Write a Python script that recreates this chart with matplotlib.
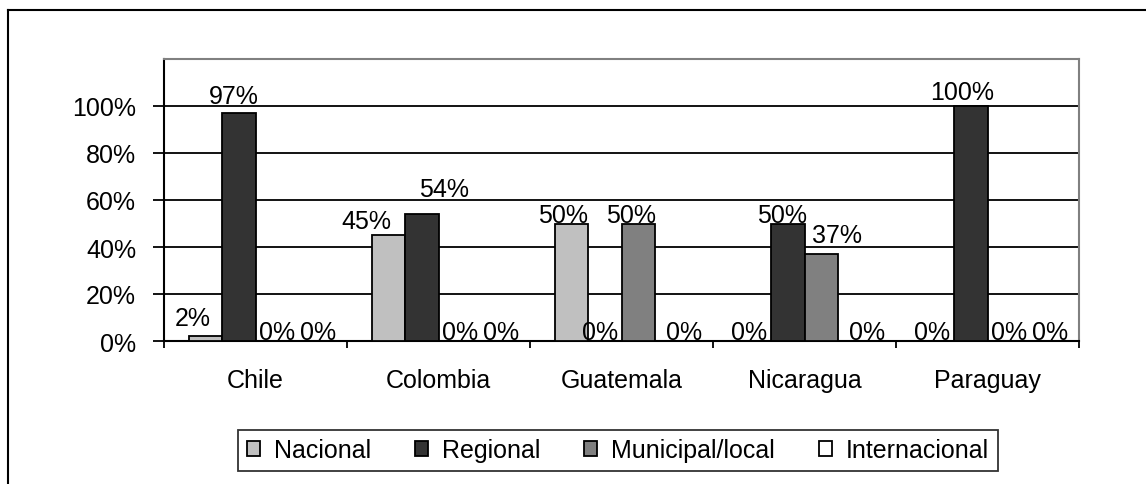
import matplotlib.pyplot as plt
import numpy as np
from matplotlib.lines import Line2D

plt.rcParams['font.family'] = ['Liberation Sans', 'DejaVu Sans']

paises = ['Chile', 'Colombia', 'Guatemala', 'Nicaragua', 'Paraguay']
series = ['Nacional', 'Regional', 'Municipal/local', 'Internacional']
nacional = [2, 45, 50, 0, 0]
regional = [97, 54, 0, 50, 100]
municipal = [0, 0, 50, 37, 0]
internacional = [0, 0, 0, 0, 0]
colores = ['#c0c0c0', '#333333', '#808080', '#ffffff']

valores = [nacional, regional, municipal, internacional]

# label nudges (points) - Excel spreads some labels to avoid overlap
nudge = {
    ('Chile', 'Nacional'): (-9, 8),
    ('Chile', 'Regional'): (-3.5, 7),
    ('Colombia', 'Nacional'): (-16, 5),
    ('Colombia', 'Regional'): (16, 13),
    ('Guatemala', 'Nacional'): (-6, 1),
    ('Guatemala', 'Municipal/local'): (-5, 1),
    ('Nicaragua', 'Regional'): (-4, 1),
    ('Nicaragua', 'Municipal/local'): (11, 8.5),
    ('Paraguay', 'Regional'): (-6, 5),
}
nudge_cero = {'Nacional': -3.5, 'Regional': -3.5, 'Municipal/local': 3.5,
              'Internacional': 9}

FS = 18

fig = plt.figure(figsize=(11.46, 4.85), dpi=100)
W, H = 1146, 485
# plot area in pixels: left 164, right 1079, top 60, bottom 342
ax = fig.add_axes([164 / W, 1 - 342 / H, (1079 - 164) / W, (342 - 60) / H])

x = np.arange(len(paises))
ancho = 0.183
for i, (nombre, vals) in enumerate(zip(series, valores)):
    pos = x - 1.5 * ancho + i * ancho
    bars = ax.bar(pos, vals, ancho, color=colores[i], edgecolor='black',
                  linewidth=1.3, label=nombre, zorder=3)
    for p, b, v in zip(paises, bars, vals):
        if v == 0:
            dx, dy = nudge_cero[nombre], 1.5
        else:
            dx, dy = nudge.get((p, nombre), (0, 1.5))
        ax.annotate(f'{v}%', (b.get_x() + b.get_width() / 2, v),
                    xytext=(dx, dy), textcoords='offset points',
                    ha='center', va='baseline', fontsize=FS, zorder=4)

ax.set_xlim(-0.5, len(paises) - 0.5)
ax.set_ylim(0, 120)
ax.set_yticks(range(0, 101, 20))
ax.set_yticklabels([f'{t}%' for t in range(0, 101, 20)], fontsize=FS)
ax.yaxis.grid(True, color='black', linewidth=1.3, zorder=0)
ax.set_xticks(x)
ax.set_xticklabels(paises, fontsize=FS, va='baseline')
ax.tick_params(axis='x', length=0, pad=33)
ax.tick_params(axis='y', length=8, width=1.3, pad=12)
# ticks between categories
ax.set_xticks(np.arange(-0.5, len(paises), 1), minor=True)
ax.tick_params(axis='x', which='minor', length=5, width=1.3, direction='out')

ax.spines['left'].set_linewidth(1.5)
ax.spines['bottom'].set_linewidth(1.5)
ax.spines['top'].set_color('#808080')
ax.spines['right'].set_color('#808080')
ax.spines['top'].set_linewidth(1.5)
ax.spines['right'].set_linewidth(1.5)

leg = fig.legend(loc='center', bbox_to_anchor=(618 / W, 1 - 451.5 / H),
                 ncol=4, fontsize=FS, frameon=True, fancybox=False,
                 edgecolor='black', handlelength=0.52, handleheight=0.52,
                 handletextpad=0.56, columnspacing=1.75, borderpad=0.35,
                 borderaxespad=0)
leg.get_frame().set_linewidth(1.3)

# outer frame (top and left edges visible)
fig.add_artist(Line2D([8 / W, 1], [1 - 11 / H, 1 - 11 / H], color='black', linewidth=1.5))
fig.add_artist(Line2D([8 / W, 8 / W], [0, 1 - 11 / H], color='black', linewidth=1.5))

fig.savefig('out.png', dpi=100)
